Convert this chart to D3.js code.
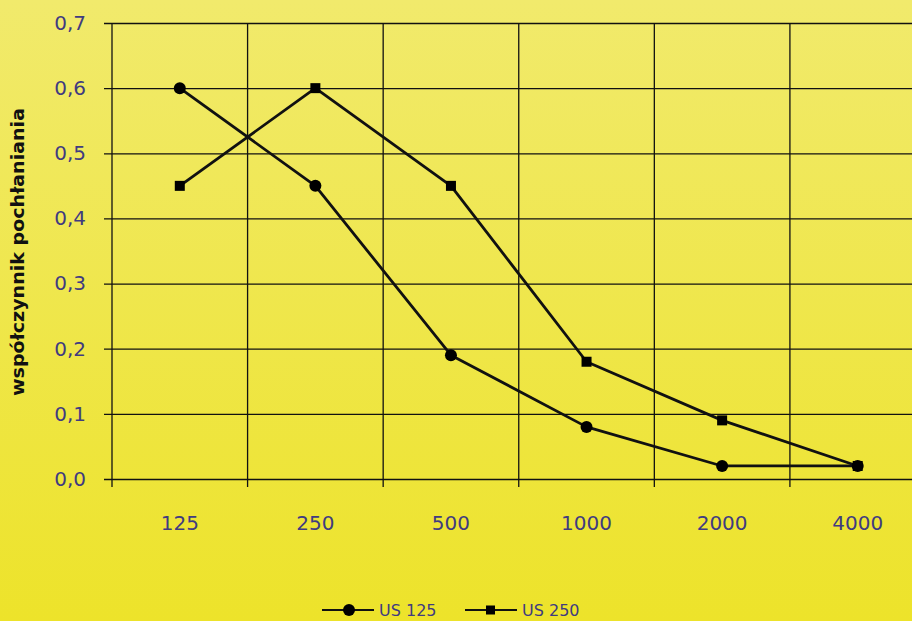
<!DOCTYPE html>
<html>
<head>
<meta charset="utf-8">
<script src="https://cdn.jsdelivr.net/npm/d3@7"></script>
<style>
  html, body { margin: 0; padding: 0; overflow: hidden; }
  svg { display: block; }
</style>
</head>
<body>
<svg id="chart" width="912" height="621"></svg>
<script>
// Sound absorption coefficient vs. frequency for two materials
const frequencies = ["125", "250", "500", "1000", "2000", "4000"];
const us125 = [0.60, 0.45, 0.19, 0.08, 0.02, 0.02];
const us250 = [0.45, 0.60, 0.45, 0.18, 0.09, 0.02];
const yTicks = [0, 0.1, 0.2, 0.3, 0.4, 0.5, 0.6, 0.7];
const seriesNames = ["US 125", "US 250"];

const W = 912, H = 621;
const svg = d3.select("#chart");

// Background: soft vertical yellow gradient
const defs = svg.append("defs");
const grad = defs.append("linearGradient").attr("id", "bg")
  .attr("x1", 0).attr("y1", 0).attr("x2", 0).attr("y2", 1);
grad.append("stop").attr("offset", "0%").attr("stop-color", "#f1ea6c");
grad.append("stop").attr("offset", "100%").attr("stop-color", "#ede32a");
svg.append("rect").attr("width", W).attr("height", H).attr("fill", "url(#bg)");

const plot = { left: 112, right: 925.5, top: 23, bottom: 479 };

const x = d3.scaleBand().domain(frequencies).range([plot.left, plot.right]).padding(0);
const y = d3.scaleLinear().domain([0, 0.7]).range([plot.bottom, plot.top]);
const cx = d => x(d) + x.bandwidth() / 2;

const labelColor = "#403b80";
const fontFam = "'DejaVu Sans', Verdana, sans-serif";

// Horizontal gridlines with ticks to the left
const gy = svg.append("g")
  .attr("transform", `translate(${plot.left},0)`)
  .call(d3.axisLeft(y).tickValues(yTicks)
    .tickSize(-(plot.right - plot.left))
    .tickSizeOuter(0)
    .tickPadding(26)
    .tickFormat(d => d3.format(".1f")(d).replace(".", ",")));
gy.select(".domain").remove();
gy.selectAll(".tick line").attr("stroke", "#111").attr("stroke-width", 1.3)
  .attr("x1", -8);
gy.selectAll(".tick text").attr("fill", labelColor)
  .style("font-family", fontFam).style("font-size", "20px");

// Vertical gridlines at category boundaries, with ticks below the axis
const bounds = frequencies.map(f => x(f)).concat([plot.right]);
svg.append("g").selectAll("line").data(bounds).join("line")
  .attr("x1", d => d).attr("x2", d => d)
  .attr("y1", plot.top).attr("y2", plot.bottom + 8)
  .attr("stroke", "#111").attr("stroke-width", 1.3);

// Category labels
svg.append("g").selectAll("text").data(frequencies).join("text")
  .attr("x", d => cx(d)).attr("y", 530)
  .attr("text-anchor", "middle")
  .attr("fill", labelColor)
  .style("font-family", fontFam).style("font-size", "20px")
  .text(d => d);

// Y axis title
svg.append("text")
  .attr("transform", `translate(24,252) rotate(-90)`)
  .attr("text-anchor", "middle")
  .attr("fill", "#111")
  .attr("textLength", 288)
  .attr("lengthAdjust", "spacingAndGlyphs")
  .style("font-family", fontFam).style("font-size", "18px").style("font-weight", "bold")
  .text("współczynnik pochłaniania");

// Series lines
const line = d3.line().x((d, i) => cx(frequencies[i])).y(d => y(d));
[us125, us250].forEach(vals => {
  svg.append("path").datum(vals)
    .attr("d", line)
    .attr("fill", "none").attr("stroke", "#111").attr("stroke-width", 2.8)
    .attr("stroke-linejoin", "round");
});

// Markers
svg.append("g").selectAll("circle").data(us125).join("circle")
  .attr("cx", (d, i) => cx(frequencies[i])).attr("cy", d => y(d))
  .attr("r", 6).attr("fill", "#000");
svg.append("g").selectAll("rect").data(us250).join("rect")
  .attr("x", (d, i) => cx(frequencies[i]) - 5).attr("y", d => y(d) - 5)
  .attr("width", 10).attr("height", 10).attr("fill", "#000");

// Legend
const legend = svg.append("g");
const ly = 610;
const items = [
  { name: seriesNames[0], x0: 322, shape: "circle" },
  { name: seriesNames[1], x0: 465, shape: "rect" }
];
items.forEach(it => {
  const g = legend.append("g");
  g.append("line").attr("x1", it.x0).attr("x2", it.x0 + 52)
    .attr("y1", ly).attr("y2", ly).attr("stroke", "#111").attr("stroke-width", 2);
  if (it.shape === "circle") {
    g.append("circle").attr("cx", it.x0 + 27).attr("cy", ly).attr("r", 6).attr("fill", "#000");
  } else {
    g.append("rect").attr("x", it.x0 + 21).attr("y", ly - 4.5).attr("width", 9).attr("height", 9).attr("fill", "#000");
  }
  g.append("text").attr("x", it.x0 + 57).attr("y", ly + 6)
    .attr("fill", labelColor)
    .style("font-family", fontFam).style("font-size", "16px")
    .text(it.name);
});
</script>
</body>
</html>
